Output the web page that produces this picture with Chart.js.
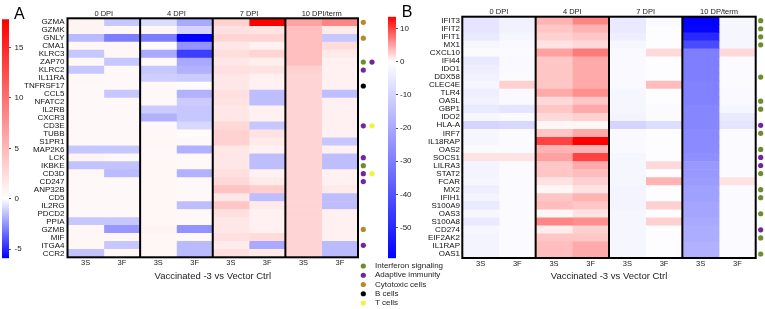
<!DOCTYPE html>
<html><head><meta charset="utf-8">
<script src="https://cdn.jsdelivr.net/npm/chart.js@4.4.1/dist/chart.umd.min.js"></script>
<style>
html,body{margin:0;padding:0;background:#fff;}
#wrap{position:relative;width:765px;height:309px;overflow:hidden;background:#fff;}
canvas{position:absolute;top:0;}
</style></head><body>
<div id="wrap">
<canvas id="cbA" width="40" height="309" style="left:0px"></canvas>
<canvas id="hmA" width="460" height="309" style="left:0px"></canvas>
<canvas id="cbB" width="45" height="309" style="left:380px"></canvas>
<canvas id="hmB" width="385" height="309" style="left:380px"></canvas>
</div>
<script>
// ---------------- DATA ----------------
const GENES_A = ['GZMA','GZMK','GNLY','CMA1','KLRC3','ZAP70','KLRC2','IL11RA','TNFRSF17','CCL5','NFATC2','IL2RB','CXCR3','CD3E','TUBB','S1PR1','MAP2K6','LCK','IKBKE','CD3D','CD247','ANP32B','CD5','IL2RG','PDCD2','PPIA','GZMB','MIF','ITGA4','CCR2'];
const GENES_B = ['IFIT3','IFIT2','IFIT1','MX1','CXCL10','IFI44','IDO1','DDX58','CLEC4E','TLR4','OASL','GBP1','IDO2','HLA-A','IRF7','IL18RAP','OAS2','SOCS1','LILRA3','STAT2','FCAR','MX2','IFIH1','S100A9','OAS3','S100A8','CD274','EIF2AK2','IL1RAP','OAS1'];
const GROUPS_A = ['0 DPI','4 DPI','7 DPI','10 DPI/term'];
const GROUPS_B = ['0 DPI','4 DPI','7 DPI','10 DP/term'];
const SUBCOLS = ['3S','3F','3S','3F','3S','3F','3S','3F'];
const X_TITLE = 'Vaccinated -3 vs Vector Ctrl';

const A_0DPI_3S  = [0.8,0.8,-1.6,0.6,-1.3,0.6,-1.3,0.6,0.5,0.5, 0.5,0.5,0.5,0.5,0.5,0.5,-1.3,0.8,-1.4,0.6, 0.5,0.5,0.5,0.5,0.5,-1.3,0.6,0.6,0.6,-1.4];
const A_0DPI_3F  = [-1.3,0.6,-3.0,0.6,0.6,-1.3,0.5,0.5,0.5,-1.3, 0.5,0.5,0.5,0.5,0.5,0.5,-1.3,0.5,-1.4,-1.6, 0.5,0.5,0.5,0.5,0.5,-1.3,-2.4,0.6,-1.3,0.6];
const A_4DPI_3S  = [-0.8,0.6,-3.0,0.3,-2.0,0.5,-1.3,-1.1,0.5,0.5, 0.5,-1.2,-1.8,0.5,0.5,0.6,0.5,0.6,0.6,0.6, 0.6,0.6,0.6,0.6,0.6,0.6,0.8,0.6,0.6,0.6];
const A_4DPI_3F  = [-2.0,-1.0,-5.9,-2.5,-4.5,-2.0,-1.8,-1.2,0.3,-1.8, -1.2,-1.3,-1.3,-0.9,0.3,0.5,-1.8,0.5,0.5,-1.8, 0.5,0.5,0.5,-1.5,0.5,0.5,-2.5,0.5,-1.6,-1.6];
const A_7DPI_3S  = [3.2,2.2,3.0,1.7,2.4,1.7,2.2,1.7,1.7,2.2, 2.0,1.7,1.7,2.7,3.2,3.2,1.7,1.7,1.7,2.2, 2.7,4.2,1.7,4.0,2.2,1.7,1.7,2.2,1.4,2.2];
const A_7DPI_3F  = [17.8,2.0,3.0,1.0,3.0,1.2,2.0,1.0,1.0,-1.5, -1.5,1.0,1.0,-1.3,2.0,1.5,1.0,-1.5,-1.5,1.0, 1.5,3.5,-1.5,1.5,1.0,1.0,1.0,2.5,-2.0,1.5];
const A_10DPI_3S = [6.5,4.5,4.5,4.5,4.5,4.5,3.2,3.0,3.0,3.0, 3.0,3.0,3.0,3.0,3.0,3.0,3.0,3.0,3.0,3.0, 3.0,3.0,3.0,3.0,3.0,3.0,3.0,3.0,3.0,3.0];
const A_10DPI_3F = [8.5,1.5,-1.3,2.5,1.5,1.0,1.0,1.0,1.0,-1.5, 1.0,1.0,1.0,1.0,1.0,-1.3,1.0,-1.5,-1.5,1.0, 1.0,1.5,-1.5,-1.5,1.0,1.0,1.0,1.0,-1.6,-1.6];

const B_0DPI_3S  = [-6,-6,-5,-2,-1,-5,-4,-3,-2,-4, -3,-5,-2,-10,-2,-2,-1,1.5,-2.5,-2.5, -2,-4,-2.5,-5,-2,-5,-2,-2.5,-2.5,-2.5];
const B_0DPI_3F  = [-3,-3,-2,-1.5,-1,-1.5,-1.5,-1,2.5,-1.5, -1.5,-6,-1.5,-9,-1,-1,-1,1.5,-1,-1, -1,-1,-1,-1,-1,-1,-1,-1,-1,-1];
const B_4DPI_3S  = [4,3,2.5,1.5,5,3,3,3,3,4.5, 2,3,2,0.5,3,10,4,5,3,3, 1.5,0.5,3,3.5,0.5,6.5,1,3,3.5,3.5];
const B_4DPI_3F  = [6.5,4,3,2,7,4.5,4.5,4.5,4.5,6, 3,4.5,2.5,0.5,4.5,13.5,4,10,4.5,3.5, 2.5,1.5,4,3,1.5,6,2.5,3,4.5,4.5];
const B_7DPI_3S  = [-5,-5,-4,-2,-1.5,-1.5,-1.5,-1.5,-1.5,-2, -2,-2,-2.5,-10,-1.5,-1.5,-1.5,-2,-2,-2, -2,-2.5,-2.5,-2.5,-2,-2,-2,-2,-2,-2];
const B_7DPI_3F  = [-1.5,-0.5,-0.5,-0.5,2,-0.5,-0.5,-0.5,3.5,-0.5, -0.5,-1,-1,-8,-0.5,-0.5,-0.5,-0.5,2,-0.5, 4,-0.5,-0.5,2.5,-0.5,2.5,-0.5,-0.5,-0.5,-0.5];
const B_10DPI_3S = [-59,-58,-50,-42,-30,-30,-30,-30,-29,-29, -29,-28,-28,-28,-27,-27,-27,-26,-24,-24, -23,-22,-22,-21,-21,-20,-19,-19,-18,-18];
const B_10DPI_3F = [-2,-2,-2,-2,2,-1,-1,-1,-1,-1.5, -1.5,-2,-5,-6,-1,-1,-1,-1,-1,-1, 1.5,-1,-1,-1,-1,-1,-1,-1,-1,-1];

const A_RANGE = [-5.9, 17.8];
const B_RANGE = [-59.2, 13.5];
const CBAR_TICKS_A = [-5, 0, 5, 10, 15];
const CBAR_TICKS_B = [-50, -40, -30, -20, -10, 0, 10];

const LEGEND_LABELS = ['Interferon signaling','Adaptive immunity','Cytotoxic cells','B cells','T cells'];
const LEGEND_COLORS = ['#6e8c2b','#72259c','#b88a2a','#000000','#f4f23c'];
const ANNOT_A_GENES = ['GZMA','GNLY','ZAP70','KLRC2','TNFRSF17','CD3E','LCK','IKBKE','CD3D','CD247','GZMB','ITGA4'];
const ANNOT_A_CATS  = [[2],[2],[0,1],[1],[3],[1,4],[1],[0],[1,4],[1],[2],[1]];
const ANNOT_B_GENES = ['IFIT3','IFIT2','IFIT1','MX1','DDX58','OASL','GBP1','HLA-A','IRF7','OAS2','SOCS1','LILRA3','STAT2','MX2','IFIH1','OAS3','CD274','EIF2AK2','OAS1'];
const ANNOT_B_CATS  = [[0],[0],[0],[0],[0],[0],[0],[1],[0],[0],[1],[1],[0],[0],[0],[0],[1],[0],[0]];

// ---------------- RENDER ----------------
Chart.defaults.font.family = "'Liberation Sans', Arial, sans-serif";
Chart.defaults.color = '#222';

function cellColor(v, min, max) {
  let r, g, b, t;
  if (v >= 0) { t = Math.min(1, v / max); r = 255; g = b = Math.round(255 * (1 - t)); }
  else { t = Math.min(1, v / min); b = 255; r = g = Math.round(255 * (1 - t)); }
  return 'rgb(' + r + ',' + g + ',' + b + ')';
}

function makeHeatmap(id, genes, cols, groups, range, geo, annotGenes, annotCats, extra) {
  const nCols = cols.length;
  const centers = cols.map((_, c) => c + 0.5);
  const groupCenters = groups.map((_, k) => k * 2 + 1);
  const datasets = cols.map((vals, c) => ({
    data: vals.map(() => [c, c + 1]),
    backgroundColor: vals.map(v => cellColor(v, range[0], range[1])),
    borderWidth: 0, barPercentage: 1, categoryPercentage: 1, grouped: false
  }));
  const deco = {
    id: 'deco' + id,
    afterDatasetsDraw(chart) {
      const {ctx, chartArea: a, scales: {x, y}} = chart;
      ctx.save();
      ctx.strokeStyle = '#000'; ctx.lineWidth = 2;
      ctx.strokeRect(a.left, a.top, a.right - a.left, a.bottom - a.top);
      for (let k = 1; k < groups.length; k++) {
        const px = x.getPixelForValue(k * 2);
        ctx.beginPath(); ctx.moveTo(px, a.top); ctx.lineTo(px, a.bottom); ctx.stroke();
      }
      annotGenes.forEach((g, i) => {
        const py = y.getPixelForValue(genes.indexOf(g));
        annotCats[i].forEach((cat, j) => {
          ctx.beginPath();
          ctx.arc(a.right + geo.dotX + j * geo.dotStep, py, 2.6, 0, Math.PI * 2);
          ctx.fillStyle = LEGEND_COLORS[cat]; ctx.fill();
        });
      });
      ctx.fillStyle = '#000';
      ctx.font = "16px 'Liberation Sans', Arial, sans-serif";
      ctx.textBaseline = 'alphabetic'; ctx.textAlign = 'left';
      ctx.fillText(geo.letter, geo.letterX, geo.letterY);
      if (extra) extra(chart);
      ctx.restore();
    }
  };
  return new Chart(document.getElementById(id), {
    type: 'bar',
    data: {labels: genes, datasets},
    options: {
      indexAxis: 'y', responsive: false, animation: false, events: [],
      layout: {padding: {left: 0, right: geo.padRight, top: 0, bottom: 0}},
      plugins: {legend: {display: false}, tooltip: {enabled: false}},
      scales: {
        x: {
          type: 'linear', position: 'bottom', min: 0, max: nCols,
          grid: {display: false, drawTicks: false}, border: {display: false},
          afterBuildTicks: s => { s.ticks = centers.map(v => ({value: v})); },
          ticks: {autoSkip: false, maxRotation: 0, padding: geo.subPad, font: {size: 7.5}, color: '#222',
                  callback: (v, i) => SUBCOLS[i]},
          title: {display: true, text: X_TITLE, font: {size: 9.5}, color: '#222', padding: {top: 0, bottom: geo.titlePad}},
          afterFit: s => { s.height = geo.bottomH; }
        },
        x2: {
          type: 'linear', position: 'top', min: 0, max: nCols,
          grid: {display: false, drawTicks: false}, border: {display: false},
          afterBuildTicks: s => { s.ticks = groupCenters.map(v => ({value: v})); },
          ticks: {autoSkip: false, maxRotation: 0, padding: 0, font: {size: 7.5}, color: '#222',
                  callback: (v, i) => groups[i]},
          afterFit: s => { s.height = geo.topH; }
        },
        y: {
          type: 'category', position: 'left',
          grid: {display: false, drawTicks: false}, border: {display: false},
          ticks: {autoSkip: false, padding: geo.labelPad, font: {size: 8, lineHeight: 1}, color: '#111'},
          afterFit: s => { s.width = geo.leftW; }
        }
      }
    },
    plugins: [deco]
  });
}

function makeColorbar(id, range, ticks, geo) {
  const [min, max] = range;
  return new Chart(document.getElementById(id), {
    type: 'bar',
    data: {labels: [''], datasets: [{
      data: [[min, max]], barPercentage: 1, categoryPercentage: 1, borderWidth: 0,
      backgroundColor: (c) => {
        const ch = c.chart, s = ch.scales.y;
        if (!ch.chartArea || !s) return '#fff';
        const g = ch.ctx.createLinearGradient(0, s.getPixelForValue(max), 0, s.getPixelForValue(min));
        g.addColorStop(0, 'rgb(255,0,0)');
        g.addColorStop(max / (max - min), 'rgb(255,255,255)');
        g.addColorStop(1, 'rgb(0,0,255)');
        return g;
      }
    }]},
    options: {
      responsive: false, animation: false, events: [],
      layout: {padding: {left: geo.left, right: 0, top: geo.top, bottom: geo.bottom}},
      plugins: {legend: {display: false}, tooltip: {enabled: false}},
      scales: {
        x: {display: false},
        y: {
          position: 'right', min, max,
          afterBuildTicks: s => { s.ticks = ticks.map(v => ({value: v})); },
          grid: {drawOnChartArea: false, drawTicks: true, tickLength: 2, color: '#555', lineWidth: 1},
          border: {display: false},
          ticks: {font: {size: 8}, color: '#222', padding: geo.pad, autoSkip: false},
          afterFit: s => { s.width = geo.width; }
        }
      }
    }
  });
}

makeColorbar('cbA', A_RANGE, CBAR_TICKS_A, {left: 2, top: 19.3, bottom: 50.7, width: 31, pad: 3.5});
makeColorbar('cbB', B_RANGE, CBAR_TICKS_B, {left: 8, top: 16.7, bottom: 50.7, width: 29, pad: 2});

const cols = (...a) => a;
makeHeatmap('hmA', GENES_A,
  cols(A_0DPI_3S, A_0DPI_3F, A_4DPI_3S, A_4DPI_3F, A_7DPI_3S, A_7DPI_3F, A_10DPI_3S, A_10DPI_3F),
  GROUPS_A, A_RANGE,
  {padRight: 102, leftW: 67.5, topH: 18.3, bottomH: 51.7, subPad: 1, titlePad: 27.3, labelPad: 3,
   dotX: 5.3, dotStep: 8.7, letter: 'A', letterX: 14, letterY: 19},
  ANNOT_A_GENES, ANNOT_A_CATS,
  (chart) => {
    const ctx = chart.ctx;
    ctx.font = "8px 'Liberation Sans', Arial, sans-serif";
    ctx.textBaseline = 'middle'; ctx.textAlign = 'left';
    LEGEND_LABELS.forEach((lab, i) => {
      const yy = 266 + i * 9.25;
      ctx.beginPath(); ctx.arc(363.3, yy, 2.6, 0, Math.PI * 2);
      ctx.fillStyle = LEGEND_COLORS[i]; ctx.fill();
      ctx.fillStyle = '#222'; ctx.fillText(lab, 375, yy);
    });
  });

makeHeatmap('hmB', GENES_B,
  cols(B_0DPI_3S, B_0DPI_3F, B_4DPI_3S, B_4DPI_3F, B_7DPI_3S, B_7DPI_3F, B_10DPI_3S, B_10DPI_3F),
  GROUPS_B, B_RANGE,
  {padRight: 9.3, leftW: 82.3, topH: 16.7, bottomH: 51, subPad: 1.5, titlePad: 27, labelPad: 2.3,
   dotX: 5, dotStep: 8.7, letter: 'B', letterX: 21.7, letterY: 16.7},
  ANNOT_B_GENES, ANNOT_B_CATS, null);
</script>
</body></html>
